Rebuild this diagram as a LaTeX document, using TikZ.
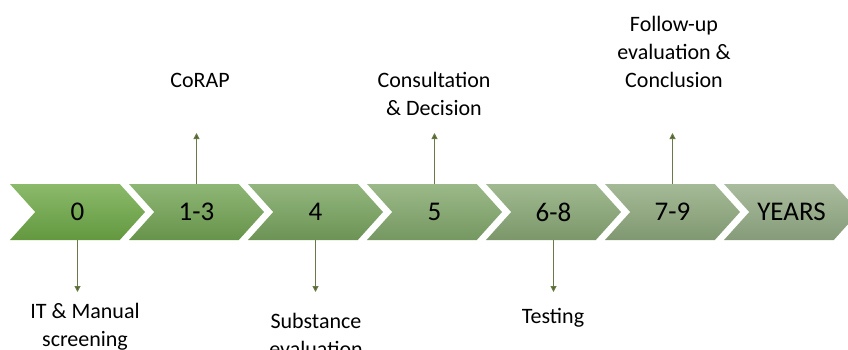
\documentclass[tikz,border=0pt]{standalone}
\usepackage{fontspec}
\setmainfont{Carlito}
\usepackage{tikz}
\usetikzlibrary{shapes.symbols,arrows.meta}

\definecolor{stA}{HTML}{6EA946}
\definecolor{stB}{HTML}{72A453}
\definecolor{stC}{HTML}{78A45E}
\definecolor{stD}{HTML}{82A86B}
\definecolor{stE}{HTML}{89A875}
\definecolor{stF}{HTML}{8EA97D}
\definecolor{stG}{HTML}{94AC86}
\definecolor{arrgreen}{HTML}{4F6228}

\tikzset{
  stage/.style={shape=signal, signal from=west, signal to=east,
    signal pointer angle=96, minimum width=135pt, minimum height=56pt,
    inner sep=0pt, font=\fontsize{27}{32}\selectfont},
  lbl/.style={align=center, inner sep=0pt, font=\fontsize{22}{28}\selectfont},
  arr/.style={draw=arrgreen!85, line width=1pt,
    -{Triangle[width=6pt,length=6pt,fill=arrgreen]}}
}

\begin{document}
\begin{tikzpicture}[x=1pt,y=-1pt]
  \useasboundingbox (0,0) rectangle (848,349);
  % timeline
  \foreach \i/\t/\c in {0/0/stA,1/1-3/stB,2/4/stC,3/5/stD,4/6-8/stE,5/7-9/stF,6/YEARS/stG}
    \node[stage, top color=\c!80!white, middle color=\c, bottom color=\c!90!black]
      (c\i) at (77.5+119*\i,212) {\t};
  \coordinate (uptip) at (0,133);
  \coordinate (dntip) at (0,292);

  % above
  \node[lbl] (corap) at (200,80) {CoRAP};
  \node[lbl] (cons) at (434,94) {Consultation\\\& Decision};
  \node[lbl] (follow) at (674,52) {Follow-up\\evaluation \&\\Conclusion};
  \draw[arr] (c1.north) -- (c1.north |- uptip);
  \draw[arr] (c3.north) -- (c3.north |- uptip);
  \draw[arr] (c5.north) -- (c5.north |- uptip);

  % below
  \node[lbl] (itman) at (85,327) {IT \& Manual\\screening};
  \node[lbl] (subst) at (316,335) {Substance\\evaluation};
  \node[lbl] (test) at (553,318) {Testing};
  \draw[arr] (c0.south) -- (c0.south |- dntip);
  \draw[arr] (c2.south) -- (c2.south |- dntip);
  \draw[arr] (c4.south) -- (c4.south |- dntip);
\end{tikzpicture}
\end{document}
